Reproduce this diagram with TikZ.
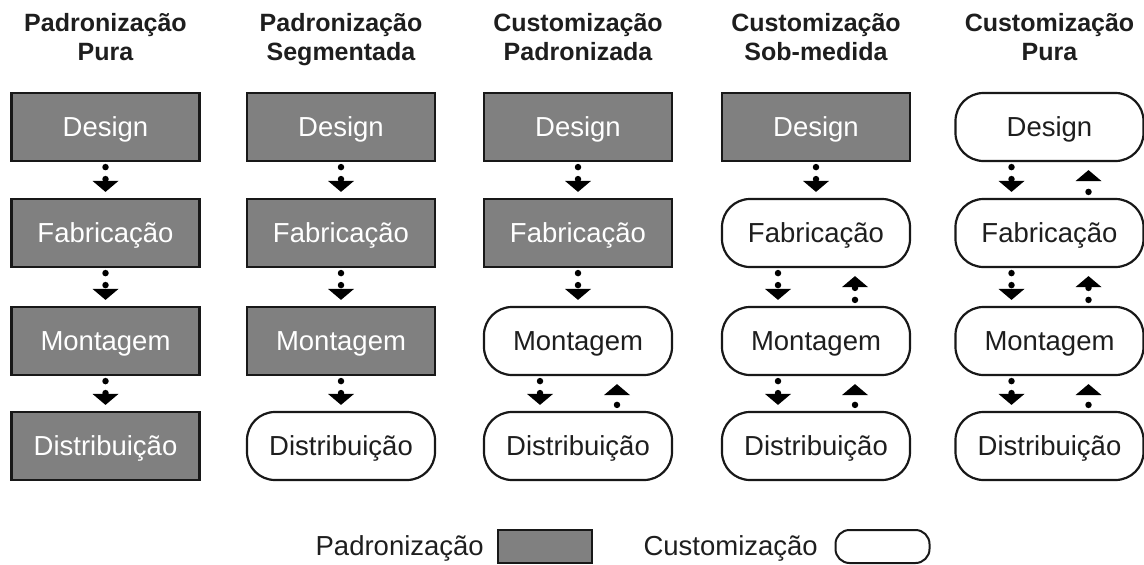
\documentclass[tikz,border=0pt]{standalone}
\usepackage{fontspec}
\setmainfont{Liberation Sans}
\usetikzlibrary{arrows.meta}
\definecolor{stdgray}{RGB}{128,128,128}
\definecolor{edge}{RGB}{24,24,24}
\definecolor{ink}{RGB}{30,30,30}

\begin{document}
\begin{tikzpicture}[x=1pt,y=-1pt,
  stage/.style={minimum width=188pt,minimum height=68pt,inner sep=0pt,
    line width=2.2pt,draw=edge,font=\fontsize{27.5}{32}\selectfont,
    text height=24pt,text depth=5pt},
  std/.style={stage,fill=stdgray,text=white},
  cust/.style={stage,fill=white,text=ink,rounded corners=28pt},
  title/.style={font=\fontsize{25}{29}\selectfont\bfseries,align=center,text=ink,inner sep=0pt},
  label/.style={font=\fontsize{27.5}{32}\selectfont,text=ink,inner sep=0pt},
  flow/.style={draw=black,line width=6.5pt,line cap=round,dash pattern=on 0pt off 12pt,
    -{Triangle[width=26pt,length=11pt,line width=0pt]}},
]
\useasboundingbox (0,0) rectangle (1144,565);

% column headings (anchored at the baseline of the second line)
\node[title,anchor=base] (t1) at (105.5,60) {Padronização\\Pura};
\node[title,anchor=base] (t2) at (341,60) {Padronização\\Segmentada};
\node[title,anchor=base] (t3) at (578,60) {Customização\\Padronizada};
\node[title,anchor=base] (t4) at (816,60) {Customização\\Sob-medida};
\node[title,anchor=base] (t5) at (1049.5,60) {Customização\\Pura};

% column 1
\node[std] (c1d) at (105.5,127) {Design};
\node[std] (c1f) at (105.5,233) {Fabricação};
\node[std] (c1m) at (105.5,341) {Montagem};
\node[std] (c1x) at (105.5,446) {Distribuição};
% column 2
\node[std] (c2d) at (341,127) {Design};
\node[std] (c2f) at (341,233) {Fabricação};
\node[std] (c2m) at (341,341) {Montagem};
\node[cust] (c2x) at (341,446) {Distribuição};
% column 3
\node[std] (c3d) at (578,127) {Design};
\node[std] (c3f) at (578,233) {Fabricação};
\node[cust] (c3m) at (578,341) {Montagem};
\node[cust] (c3x) at (578,446) {Distribuição};
% column 4
\node[std] (c4d) at (816,127) {Design};
\node[cust] (c4f) at (816,233) {Fabricação};
\node[cust] (c4m) at (816,341) {Montagem};
\node[cust] (c4x) at (816,446) {Distribuição};
% column 5
\node[cust] (c5d) at (1049.5,127) {Design};
\node[cust] (c5f) at (1049.5,233) {Fabricação};
\node[cust] (c5m) at (1049.5,341) {Montagem};
\node[cust] (c5x) at (1049.5,446) {Distribuição};

% single downward flows
\foreach \a/\b in {c1d/c1f,c1f/c1m,c1m/c1x,c2d/c2f,c2f/c2m,c2m/c2x,c3d/c3f,c3f/c3m,c4d/c4f}
  \draw[flow] ([yshift=-5pt]\a.south) -- ([yshift=6pt]\b.north);

% two-way flows between customised stages
\foreach \a/\b in {c3m/c3x,c4f/c4m,c4m/c4x,c5d/c5f,c5f/c5m,c5m/c5x}{
  \draw[flow] ([xshift=-38pt,yshift=-5pt]\a.south) -- ([xshift=-38pt,yshift=6pt]\b.north);
  \draw[flow] ([xshift=39pt,yshift=6pt]\b.north) -- ([xshift=39pt,yshift=-8pt]\a.south);
}

% legend
\node[label,anchor=base east] (lstd) at (484,555) {Padronização};
\node[std,minimum width=94pt,minimum height=33pt,line width=2pt] (kstd) at (545,546.5) {};
\node[label,anchor=base east] (lcust) at (818,555) {Customização};
\node[cust,minimum width=94pt,minimum height=33pt,line width=2pt,rounded corners=14pt] (kcust) at (882.5,546.5) {};
\end{tikzpicture}
\end{document}
